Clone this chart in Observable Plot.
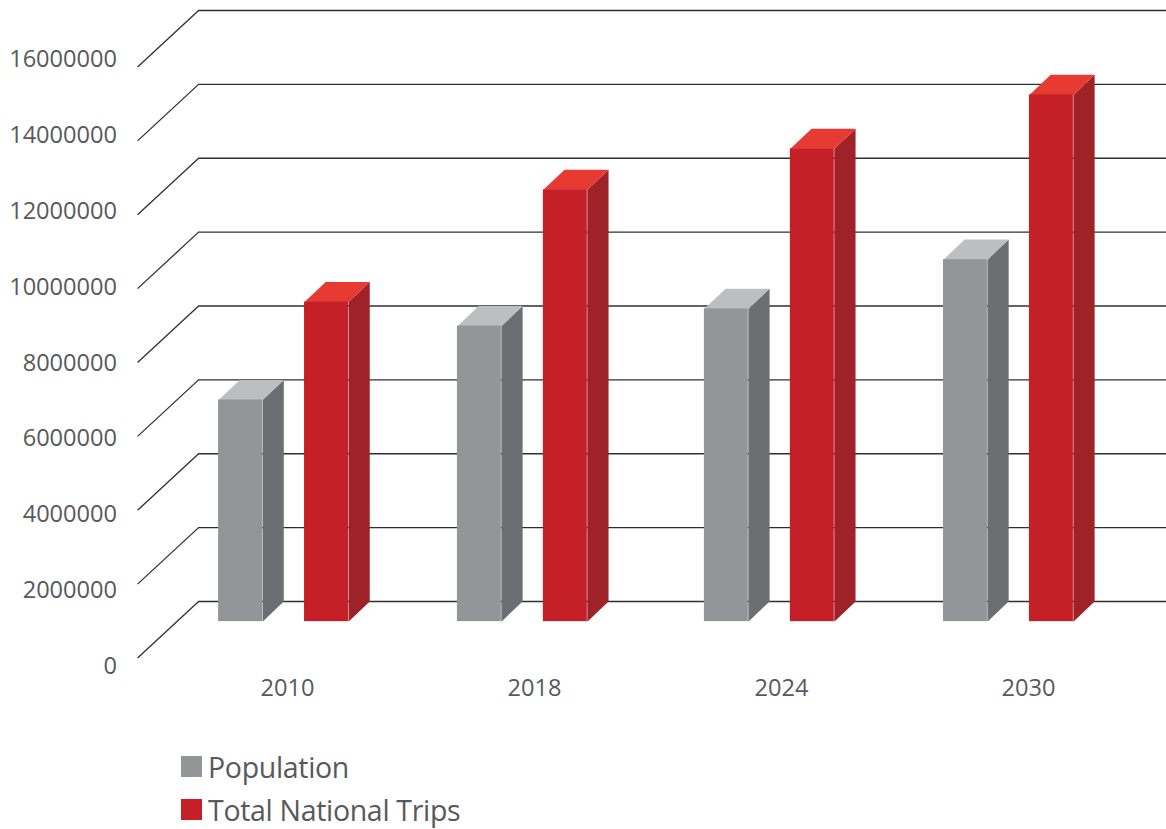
<!DOCTYPE html>
<html>
<head>
<meta charset="utf-8">
<script src="https://cdn.jsdelivr.net/npm/d3@7"></script>
<script src="https://cdn.jsdelivr.net/npm/@observablehq/plot@0.6"></script>
<style>
  html, body { margin: 0; background: #fff; }
  #chart svg { display: block; }
  .legend { margin-left: 181px; font-family: "Open Sans", sans-serif; font-size: 28.5px; letter-spacing: -0.32px; color: #58595b; }
  .legend div { display: flex; align-items: center; height: 43px; }
  .legend i { display: block; width: 21px; height: 21px; margin-right: 6px; }
</style>
</head>
<body>
<div id="chart"></div>
<div class="legend" id="legend"></div>
<script>
const years = ["2010", "2018", "2024", "2030"];
const population = [6000000, 8000000, 8470000, 9800000];
const totalTrips = [8650000, 11690000, 12800000, 14260000];
const gridTicks = [0, 2000000, 4000000, 6000000, 8000000, 10000000, 12000000, 14000000, 16000000];

// Projection of the 3D box, in axis units (x: one unit per year slot, y: the value axis).
const groupShift = [-0.279, -0.312, -0.312, -0.344];
const tripsOffset = 0.348;
const barWidth = 0.178;
const barDepthX = 0.086;
const barDepthY = 545000;
const floorDepthX = 0.247;
const floorDepthY = 1530000;
const wallLeft = -0.36;
const wallRight = 3.56;

const series = [
  {name: "Population", values: population, offset: 0, front: "#939598", side: "#6d6e71", top: "#bcbec0"},
  {name: "Total National Trips", values: totalTrips, offset: tripsOffset, front: "#c52027", side: "#9e2228", top: "#e63a33"}
];

// Each bar becomes a front rectangle plus two parallelogram faces.
const bars = series.flatMap(s => s.values.map((v, i) => {
  const x1 = i + groupShift[i] + s.offset;
  const x2 = x1 + barWidth;
  const y1 = -barDepthY;
  const y2 = y1 + v;
  return {...s, key: s.name + years[i], x1, x2, y1, y2};
}));

const polygon = (b, pts) => pts.map(([x, y]) => ({key: b.key, x, y}));
const sideFace = b => polygon(b, [[b.x2, b.y1], [b.x2 + barDepthX, b.y1 + barDepthY], [b.x2 + barDepthX, b.y2 + barDepthY], [b.x2, b.y2]]);
const topFace = b => polygon(b, [[b.x1, b.y2], [b.x2, b.y2], [b.x2 + barDepthX, b.y2 + barDepthY], [b.x1 + barDepthX, b.y2 + barDepthY]]);

const faceMarks = bars.flatMap(b => [
  Plot.line(sideFace(b), {x: "x", y: "y", z: "key", curve: "linear-closed", fill: b.side, stroke: "none"}),
  Plot.line(topFace(b), {x: "x", y: "y", z: "key", curve: "linear-closed", fill: b.top, stroke: "none"}),
  Plot.rect([b], {x1: "x1", x2: "x2", y1: "y1", y2: "y2", fill: b.front})
]);

// The value labels sit on a slightly wider spacing than the wall lines.
const labelY = v => -1705000 + v * 1.027;
const textStyle = {fontFamily: "'Open Sans', sans-serif", fontSize: 23.6, fill: "#58595b"};

const chart = Plot.plot({
  width: 1166,
  height: 745,
  margin: 0,
  x: {domain: [-1.162, 3.559], range: [0, 1166], axis: null},
  y: {domain: [0, 16000000], range: [601, 10], axis: null},
  marks: [
    Plot.ruleY(gridTicks, {x1: wallLeft, x2: wallRight, stroke: "#2f2f31", strokeWidth: 1.3}),
    Plot.link(gridTicks, {
      x1: wallLeft - floorDepthX, y1: d => d - floorDepthY,
      x2: wallLeft, y2: d => d,
      stroke: "#2f2f31", strokeWidth: 1.3
    }),
    ...faceMarks,
    Plot.text(gridTicks, {x: -0.69, y: labelY, dy: 2, text: d => String(d), textAnchor: "end", ...textStyle}),
    Plot.text(years, {x: (d, i) => i, y: -2330000, dy: 1, text: d => d, ...textStyle})
  ]
});
document.getElementById("chart").append(chart);

const legend = document.getElementById("legend");
for (const s of series) {
  const row = document.createElement("div");
  const swatch = document.createElement("i");
  swatch.style.background = s.front;
  row.append(swatch, s.name);
  legend.append(row);
}
</script>
</body>
</html>
